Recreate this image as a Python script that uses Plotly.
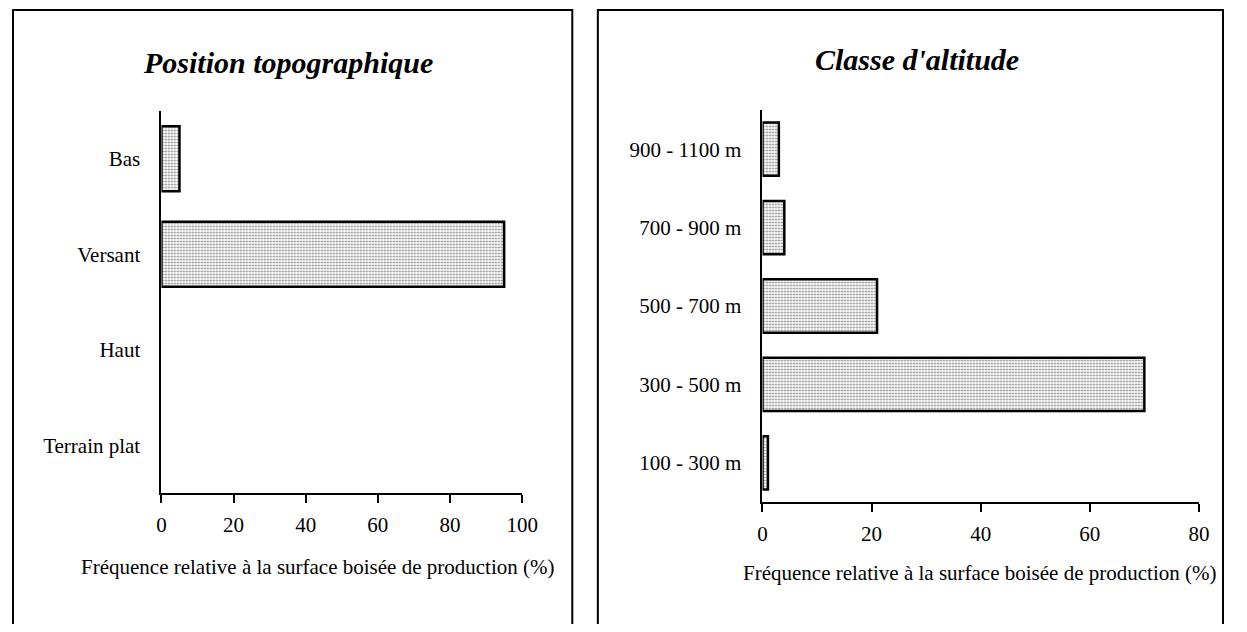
import plotly.graph_objects as go

# ── Data ──────────────────────────────────────────────
topo_cats = ["Terrain plat", "Haut", "Versant", "Bas"]
topo_vals = [0, 0, 95, 5]

alt_cats = ["100 - 300 m", "300 - 500 m", "500 - 700 m", "700 - 900 m", "900 - 1100 m"]
alt_vals = [1, 70, 21, 4, 3]

x_title = "Fréquence relative à la surface boisée de production (%)"

# page size and page offset (browser body margin)
W, H = 1247, 632
OFF = 8
FW, FH = W - 2 * OFF, H - 2 * OFF
FONT = "Liberation Serif, Times New Roman, serif"


def px(x):
    return (x - OFF) / FW


def py(y):
    return 1 - (y - OFF) / FH


def bar_marker(vals):
    return dict(
        color="white",
        line=dict(color="black", width=[2.5 if v > 0 else 0 for v in vals]),
        pattern=dict(shape=".", size=3, solidity=0.3, fgcolor="black", bgcolor="white"),
    )


fig = go.Figure()
fig.add_trace(go.Bar(x=topo_vals, y=topo_cats, orientation="h",
                     marker=bar_marker(topo_vals), xaxis="x", yaxis="y"))
fig.add_trace(go.Bar(x=alt_vals, y=alt_cats, orientation="h",
                     marker=bar_marker(alt_vals), xaxis="x2", yaxis="y2"))

axis_common = dict(showline=True, linecolor="black", linewidth=2,
                   showgrid=False, zeroline=False, mirror=False,
                   tickfont=dict(family=FONT, size=21, color="black"))

fig.update_layout(
    width=FW, height=FH,
    margin=dict(l=0, r=0, t=0, b=0),
    paper_bgcolor="white", plot_bgcolor="white",
    showlegend=False,
    bargap=0.32,
    font=dict(family=FONT, color="black"),
    xaxis=dict(domain=[px(159), px(526)], anchor="y", range=[0, 100],
               tickmode="array", tickvals=[0, 20, 40, 60, 80, 100],
               ticks="outside", ticklen=8, tickwidth=2, tickcolor="black",
               ticklabelstandoff=4, **axis_common),
    yaxis=dict(domain=[py(493), py(111)], anchor="x",
               categoryorder="array", categoryarray=topo_cats,
               ticks="", ticklabelstandoff=15, **axis_common),
    xaxis2=dict(domain=[px(770.5), px(1214.5)], anchor="y2", range=[0, 80],
                tickmode="array", tickvals=[0, 20, 40, 60, 80],
                ticks="outside", ticklen=8, tickwidth=2, tickcolor="black",
                ticklabelstandoff=4, **axis_common),
    yaxis2=dict(domain=[py(502), py(110)], anchor="x2",
                categoryorder="array", categoryarray=alt_cats,
                ticks="", ticklabelstandoff=15, **axis_common),
)

# panel frames (bottom edge runs off the page)
for x0, x1 in [(8, 577), (603, 1239)]:
    fig.add_shape(type="rect", xref="paper", yref="paper",
                  x0=px(x0), x1=px(x1), y0=-0.05, y1=py(10),
                  line=dict(color="black", width=2), fillcolor="rgba(0,0,0,0)")

# titles
for txt, x, y in [("Position topographique", 288, 62), ("Classe d'altitude", 928, 60)]:
    fig.add_annotation(text=f"<b><i>{txt}</i></b>", xref="paper", yref="paper",
                       x=px(x), y=py(y), xanchor="center", yanchor="middle",
                       showarrow=False,
                       font=dict(family=FONT, size=30, color="black"))

# axis titles
for x, y in [(318, 567), (991, 573)]:
    fig.add_annotation(text=x_title, xref="paper", yref="paper",
                       x=px(x), y=py(y), xanchor="center", yanchor="middle",
                       showarrow=False,
                       font=dict(family=FONT, size=21, color="black"))

fig.write_html("out.html", config={"displayModeBar": False})
